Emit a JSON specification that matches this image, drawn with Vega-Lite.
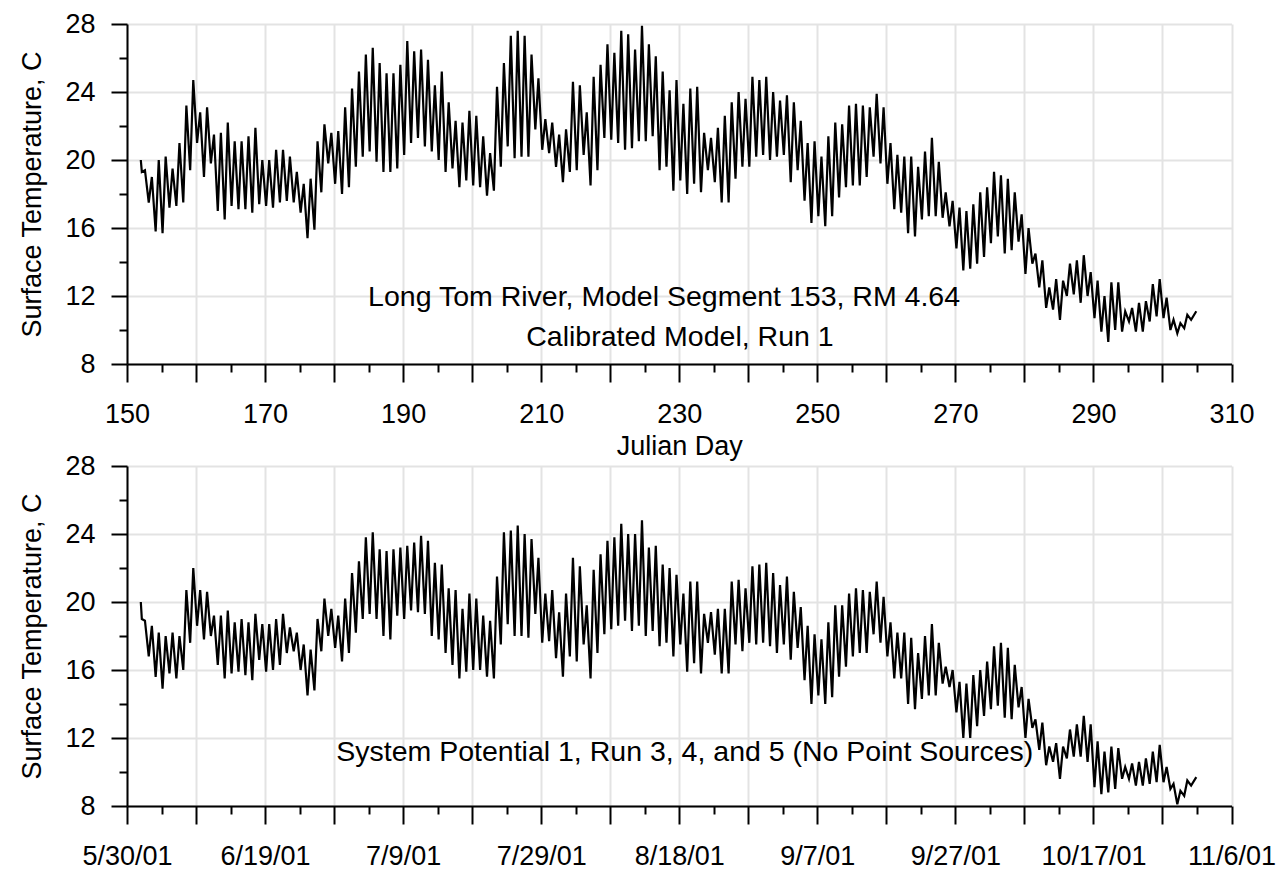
{
"$schema": "https://vega.github.io/schema/vega-lite/v6.json",
"background": "white",
"padding": {"left": 18, "top": 10, "right": 5, "bottom": 5},
"autosize": {"type": "pad"},
"bounds": "flush",
"spacing": 102,
"config": {
"font": "Liberation Sans",
"view": {"stroke": null},
"axis": {"labelFont": "Liberation Sans", "labelFontSize": 27, "labelColor": "#000", "titleFont": "Liberation Sans", "titleFontSize": 27, "titleFontWeight": "normal", "titleColor": "#000", "domainColor": "#000", "domainWidth": 2, "tickColor": "#000", "tickWidth": 2, "gridColor": "#e3e3e3", "gridWidth": 2, "labelFlush": false, "labelOverlap": false, "labelBound": false}
},
"datasets": {
"top": [
{"t":152,"v":20},
{"t":152.15,"v":19.3},{"t":152.6,"v":19.4},
{"t":153.15,"v":17.5},{"t":153.6,"v":19},
{"t":154.15,"v":15.8},{"t":154.6,"v":20},
{"t":155.15,"v":15.7},{"t":155.6,"v":20.2},
{"t":156.15,"v":17.2},{"t":156.6,"v":19.5},
{"t":157.15,"v":17.3},{"t":157.6,"v":21},
{"t":158.15,"v":17.5},{"t":158.6,"v":23.2},
{"t":159.15,"v":19.4},{"t":159.6,"v":24.7},
{"t":160.15,"v":21},{"t":160.6,"v":22.8},
{"t":161.15,"v":19},{"t":161.6,"v":23.1},
{"t":162.15,"v":19.8},{"t":162.6,"v":21.5},
{"t":163.15,"v":17},{"t":163.6,"v":21.6},
{"t":164.15,"v":16.5},{"t":164.6,"v":22.2},
{"t":165.15,"v":17.3},{"t":165.6,"v":21.1},
{"t":166.15,"v":17.1},{"t":166.6,"v":21.1},
{"t":167.15,"v":17.1},{"t":167.6,"v":21.4},
{"t":168.15,"v":16.9},{"t":168.6,"v":21.9},
{"t":169.15,"v":17.4},{"t":169.6,"v":20},
{"t":170.15,"v":17.3},{"t":170.6,"v":20},
{"t":171.15,"v":17.2},{"t":171.6,"v":20.6},
{"t":172.15,"v":17.5},{"t":172.6,"v":20.6},
{"t":173.15,"v":17.6},{"t":173.6,"v":20.2},
{"t":174.15,"v":17.5},{"t":174.6,"v":19.3},
{"t":175.15,"v":16.9},{"t":175.6,"v":18.6},
{"t":176.15,"v":15.4},{"t":176.6,"v":18.9},
{"t":177.15,"v":15.9},{"t":177.6,"v":21.1},
{"t":178.15,"v":18.1},{"t":178.6,"v":22.1},
{"t":179.15,"v":19.8},{"t":179.6,"v":21.6},
{"t":180.15,"v":18.6},{"t":180.6,"v":21.7},
{"t":181.15,"v":18},{"t":181.6,"v":23.1},
{"t":182.15,"v":18.4},{"t":182.6,"v":24.2},
{"t":183.15,"v":19.6},{"t":183.6,"v":25.2},
{"t":184.15,"v":20.2},{"t":184.6,"v":26.2},
{"t":185.15,"v":20.5},{"t":185.6,"v":26.6},
{"t":186.15,"v":19.9},{"t":186.6,"v":25.7},
{"t":187.15,"v":19.3},{"t":187.6,"v":25.1},
{"t":188.15,"v":19.3},{"t":188.6,"v":25.1},
{"t":189.15,"v":19.5},{"t":189.6,"v":25.6},
{"t":190.15,"v":20.3},{"t":190.6,"v":27},
{"t":191.15,"v":21},{"t":191.6,"v":26.4},
{"t":192.15,"v":21.3},{"t":192.6,"v":26.5},
{"t":193.15,"v":20.8},{"t":193.6,"v":25.9},
{"t":194.15,"v":20.5},{"t":194.6,"v":24.4},
{"t":195.15,"v":20},{"t":195.6,"v":25.2},
{"t":196.15,"v":19.3},{"t":196.6,"v":23.4},
{"t":197.15,"v":19.5},{"t":197.6,"v":22.3},
{"t":198.15,"v":18.4},{"t":198.6,"v":22.2},
{"t":199.15,"v":18.8},{"t":199.6,"v":22.9},
{"t":200.15,"v":18.5},{"t":200.6,"v":22.6},
{"t":201.15,"v":18.4},{"t":201.6,"v":21.4},
{"t":202.15,"v":17.9},{"t":202.6,"v":20.4},
{"t":203.15,"v":18.2},{"t":203.6,"v":24.3},
{"t":204.15,"v":19.6},{"t":204.6,"v":25.7},
{"t":205.15,"v":20.8},{"t":205.6,"v":27.3},
{"t":206.15,"v":20.1},{"t":206.6,"v":27.6},
{"t":207.15,"v":20.2},{"t":207.6,"v":27.3},
{"t":208.15,"v":20.2},{"t":208.6,"v":26.2},
{"t":209.15,"v":21.8},{"t":209.6,"v":24.8},
{"t":210.15,"v":20.6},{"t":210.6,"v":22.4},
{"t":211.15,"v":20.4},{"t":211.6,"v":22.2},
{"t":212.15,"v":19.6},{"t":212.6,"v":21.5},
{"t":213.15,"v":18.7},{"t":213.6,"v":21.8},
{"t":214.15,"v":19.3},{"t":214.6,"v":24.6},
{"t":215.15,"v":19.4},{"t":215.6,"v":24.4},
{"t":216.15,"v":20.3},{"t":216.6,"v":22.8},
{"t":217.15,"v":18.5},{"t":217.6,"v":24.9},
{"t":218.15,"v":19.4},{"t":218.6,"v":25.6},
{"t":219.15,"v":21.3},{"t":219.6,"v":26.8},
{"t":220.15,"v":21.2},{"t":220.6,"v":26.3},
{"t":221.15,"v":21},{"t":221.6,"v":27.6},
{"t":222.15,"v":20.6},{"t":222.6,"v":27.4},
{"t":223.15,"v":20.7},{"t":223.6,"v":26.5},
{"t":224.15,"v":21.1},{"t":224.6,"v":27.9},
{"t":225.15,"v":21.1},{"t":225.6,"v":26.8},
{"t":226.15,"v":21.4},{"t":226.6,"v":26.1},
{"t":227.15,"v":19.4},{"t":227.6,"v":25.2},
{"t":228.15,"v":19.6},{"t":228.6,"v":24.1},
{"t":229.15,"v":18.2},{"t":229.6,"v":24.7},
{"t":230.15,"v":18.8},{"t":230.6,"v":23.3},
{"t":231.15,"v":18},{"t":231.6,"v":24.2},
{"t":232.15,"v":18.6},{"t":232.6,"v":24.3},
{"t":233.15,"v":18.1},{"t":233.6,"v":21.6},
{"t":234.15,"v":19.4},{"t":234.6,"v":21.3},
{"t":235.15,"v":18.7},{"t":235.6,"v":21.9},
{"t":236.15,"v":17.5},{"t":236.6,"v":22.6},
{"t":237.15,"v":17.5},{"t":237.6,"v":23.4},
{"t":238.15,"v":18.9},{"t":238.6,"v":24},
{"t":239.15,"v":19.6},{"t":239.6,"v":23.6},
{"t":240.15,"v":19.6},{"t":240.6,"v":24.9},
{"t":241.15,"v":20.2},{"t":241.6,"v":24.7},
{"t":242.15,"v":20.3},{"t":242.6,"v":24.9},
{"t":243.15,"v":20},{"t":243.6,"v":24},
{"t":244.15,"v":20.2},{"t":244.6,"v":23.5},
{"t":245.15,"v":20.3},{"t":245.6,"v":23.8},
{"t":246.15,"v":18.7},{"t":246.6,"v":23.4},
{"t":247.15,"v":19.4},{"t":247.6,"v":22.3},
{"t":248.15,"v":17.6},{"t":248.6,"v":21},
{"t":249.15,"v":16.3},{"t":249.6,"v":21.1},
{"t":250.15,"v":16.7},{"t":250.6,"v":20.2},
{"t":251.15,"v":16.1},{"t":251.6,"v":21.4},
{"t":252.15,"v":16.7},{"t":252.6,"v":22.2},
{"t":253.15,"v":17.8},{"t":253.6,"v":22.1},
{"t":254.15,"v":18.4},{"t":254.6,"v":23.2},
{"t":255.15,"v":18.5},{"t":255.6,"v":23.3},
{"t":256.15,"v":18.5},{"t":256.6,"v":23.2},
{"t":257.15,"v":19},{"t":257.6,"v":23.1},
{"t":258.15,"v":20.2},{"t":258.6,"v":23.9},
{"t":259.15,"v":19.8},{"t":259.6,"v":23.1},
{"t":260.15,"v":18.6},{"t":260.6,"v":21},
{"t":261.15,"v":17.1},{"t":261.6,"v":20.3},
{"t":262.15,"v":16.9},{"t":262.6,"v":20.2},
{"t":263.15,"v":15.7},{"t":263.6,"v":20.2},
{"t":264.15,"v":15.5},{"t":264.6,"v":19.6},
{"t":265.15,"v":16.5},{"t":265.6,"v":20.5},
{"t":266.15,"v":16.7},{"t":266.6,"v":21.3},
{"t":267.15,"v":16.7},{"t":267.6,"v":19.9},
{"t":268.15,"v":16.6},{"t":268.6,"v":18.1},
{"t":269.15,"v":16.1},{"t":269.6,"v":17.6},
{"t":270.15,"v":14.8},{"t":270.6,"v":17.2},
{"t":271.15,"v":13.5},{"t":271.6,"v":17},
{"t":272.15,"v":13.6},{"t":272.6,"v":17.4},
{"t":273.15,"v":13.9},{"t":273.6,"v":18.1},
{"t":274.15,"v":14.3},{"t":274.6,"v":18.4},
{"t":275.15,"v":15.1},{"t":275.6,"v":19.3},
{"t":276.15,"v":15.5},{"t":276.6,"v":19.1},
{"t":277.15,"v":14.5},{"t":277.6,"v":18.9},
{"t":278.15,"v":14.7},{"t":278.6,"v":18.1},
{"t":279.15,"v":15.2},{"t":279.6,"v":16.8},
{"t":280.15,"v":13.3},{"t":280.6,"v":16},
{"t":281.15,"v":13.9},{"t":281.6,"v":14.5},
{"t":282.15,"v":12.5},{"t":282.6,"v":14.1},
{"t":283.15,"v":11.3},{"t":283.6,"v":12.5},
{"t":284.15,"v":11.2},{"t":284.6,"v":13},
{"t":285.15,"v":10.6},{"t":285.6,"v":12.9},
{"t":286.15,"v":12},{"t":286.6,"v":13.9},
{"t":287.15,"v":12.1},{"t":287.6,"v":14.1},
{"t":288.15,"v":11.6},{"t":288.6,"v":14.4},
{"t":289.15,"v":12},{"t":289.6,"v":13.4},
{"t":290.15,"v":10.7},{"t":290.6,"v":12.9},
{"t":291.15,"v":9.9},{"t":291.6,"v":12},
{"t":292.15,"v":9.3},{"t":292.6,"v":12.8},
{"t":293.15,"v":10},{"t":293.6,"v":12.8},
{"t":294.15,"v":9.9},{"t":294.6,"v":11.1},
{"t":295.15,"v":10.5},{"t":295.6,"v":11.3},
{"t":296.15,"v":9.9},{"t":296.6,"v":11.6},
{"t":297.15,"v":9.9},{"t":297.6,"v":11.7},
{"t":298.15,"v":10.5},{"t":298.6,"v":12.7},
{"t":299.15,"v":10.8},{"t":299.6,"v":13},
{"t":300.15,"v":10.7},{"t":300.6,"v":11.9},
{"t":301.15,"v":10},{"t":301.6,"v":10.6},
{"t":302.15,"v":9.8},{"t":302.6,"v":10.4},
{"t":303.15,"v":10.1},{"t":303.6,"v":10.9},
{"t":304.15,"v":10.6},{"t":304.9,"v":11.1}
],
"bot": [
{"t":152,"v":20},
{"t":152.15,"v":19},{"t":152.6,"v":18.9},
{"t":153.15,"v":16.8},{"t":153.6,"v":18.6},
{"t":154.15,"v":15.6},{"t":154.6,"v":18.2},
{"t":155.15,"v":14.9},{"t":155.6,"v":18},
{"t":156.15,"v":15.8},{"t":156.6,"v":18.2},
{"t":157.15,"v":15.5},{"t":157.6,"v":18},
{"t":158.15,"v":16},{"t":158.6,"v":20.7},
{"t":159.15,"v":17.6},{"t":159.6,"v":22},
{"t":160.15,"v":18.6},{"t":160.6,"v":20.7},
{"t":161.15,"v":17.8},{"t":161.6,"v":20.6},
{"t":162.15,"v":18},{"t":162.6,"v":19.2},
{"t":163.15,"v":16.3},{"t":163.6,"v":19.2},
{"t":164.15,"v":15.5},{"t":164.6,"v":19.5},
{"t":165.15,"v":15.8},{"t":165.6,"v":18.8},
{"t":166.15,"v":15.9},{"t":166.6,"v":19},
{"t":167.15,"v":15.7},{"t":167.6,"v":18.8},
{"t":168.15,"v":15.4},{"t":168.6,"v":19.3},
{"t":169.15,"v":16.6},{"t":169.6,"v":18.7},
{"t":170.15,"v":15.9},{"t":170.6,"v":18.7},
{"t":171.15,"v":16},{"t":171.6,"v":19},
{"t":172.15,"v":16.3},{"t":172.6,"v":19.3},
{"t":173.15,"v":17},{"t":173.6,"v":18.5},
{"t":174.15,"v":17.1},{"t":174.6,"v":18.2},
{"t":175.15,"v":16},{"t":175.6,"v":17.5},
{"t":176.15,"v":14.5},{"t":176.6,"v":17.2},
{"t":177.15,"v":14.8},{"t":177.6,"v":19},
{"t":178.15,"v":17.1},{"t":178.6,"v":20.2},
{"t":179.15,"v":18},{"t":179.6,"v":19.6},
{"t":180.15,"v":17.3},{"t":180.6,"v":19.2},
{"t":181.15,"v":16.5},{"t":181.6,"v":20.2},
{"t":182.15,"v":17},{"t":182.6,"v":21.7},
{"t":183.15,"v":18.2},{"t":183.6,"v":22.4},
{"t":184.15,"v":19},{"t":184.6,"v":23.8},
{"t":185.15,"v":19.3},{"t":185.6,"v":24.1},
{"t":186.15,"v":19},{"t":186.6,"v":23.1},
{"t":187.15,"v":18},{"t":187.6,"v":23},
{"t":188.15,"v":17.8},{"t":188.6,"v":23.1},
{"t":189.15,"v":19.2},{"t":189.6,"v":23.2},
{"t":190.15,"v":19},{"t":190.6,"v":23.3},
{"t":191.15,"v":19.5},{"t":191.6,"v":23.5},
{"t":192.15,"v":19.4},{"t":192.6,"v":23.9},
{"t":193.15,"v":19.3},{"t":193.6,"v":23.6},
{"t":194.15,"v":18},{"t":194.6,"v":22.3},
{"t":195.15,"v":17.8},{"t":195.6,"v":22.2},
{"t":196.15,"v":17},{"t":196.6,"v":20.8},
{"t":197.15,"v":16.3},{"t":197.6,"v":20.7},
{"t":198.15,"v":15.5},{"t":198.6,"v":19.6},
{"t":199.15,"v":15.9},{"t":199.6,"v":20.5},
{"t":200.15,"v":16},{"t":200.6,"v":20.2},
{"t":201.15,"v":16},{"t":201.6,"v":19.2},
{"t":202.15,"v":15.6},{"t":202.6,"v":18.9},
{"t":203.15,"v":15.5},{"t":203.6,"v":21.5},
{"t":204.15,"v":17.5},{"t":204.6,"v":24.1},
{"t":205.15,"v":18.7},{"t":205.6,"v":24.2},
{"t":206.15,"v":18},{"t":206.6,"v":24.5},
{"t":207.15,"v":18},{"t":207.6,"v":24},
{"t":208.15,"v":17.9},{"t":208.6,"v":23.7},
{"t":209.15,"v":19.3},{"t":209.6,"v":22.6},
{"t":210.15,"v":17.6},{"t":210.6,"v":20.5},
{"t":211.15,"v":17.7},{"t":211.6,"v":20.7},
{"t":212.15,"v":16.7},{"t":212.6,"v":19.4},
{"t":213.15,"v":15.6},{"t":213.6,"v":20.5},
{"t":214.15,"v":16.8},{"t":214.6,"v":22.6},
{"t":215.15,"v":16.5},{"t":215.6,"v":22.1},
{"t":216.15,"v":17.5},{"t":216.6,"v":19.8},
{"t":217.15,"v":15.5},{"t":217.6,"v":21.9},
{"t":218.15,"v":17},{"t":218.6,"v":22.8},
{"t":219.15,"v":18.1},{"t":219.6,"v":23.6},
{"t":220.15,"v":18.4},{"t":220.6,"v":23.8},
{"t":221.15,"v":18.6},{"t":221.6,"v":24.6},
{"t":222.15,"v":18.9},{"t":222.6,"v":24},
{"t":223.15,"v":18.3},{"t":223.6,"v":24},
{"t":224.15,"v":18.6},{"t":224.6,"v":24.8},
{"t":225.15,"v":18},{"t":225.6,"v":23.2},
{"t":226.15,"v":18.3},{"t":226.6,"v":23.3},
{"t":227.15,"v":17.4},{"t":227.6,"v":22.2},
{"t":228.15,"v":17.6},{"t":228.6,"v":22},
{"t":229.15,"v":16.8},{"t":229.6,"v":21.6},
{"t":230.15,"v":17.5},{"t":230.6,"v":20.5},
{"t":231.15,"v":15.9},{"t":231.6,"v":21.2},
{"t":232.15,"v":16.4},{"t":232.6,"v":21.2},
{"t":233.15,"v":15.8},{"t":233.6,"v":19.3},
{"t":234.15,"v":17.6},{"t":234.6,"v":19.4},
{"t":235.15,"v":16.9},{"t":235.6,"v":19.6},
{"t":236.15,"v":15.8},{"t":236.6,"v":19.6},
{"t":237.15,"v":15.8},{"t":237.6,"v":21.2},
{"t":238.15,"v":17.5},{"t":238.6,"v":21.3},
{"t":239.15,"v":17.1},{"t":239.6,"v":20.8},
{"t":240.15,"v":17.6},{"t":240.6,"v":22.1},
{"t":241.15,"v":17.5},{"t":241.6,"v":22.2},
{"t":242.15,"v":17.6},{"t":242.6,"v":22.3},
{"t":243.15,"v":17.4},{"t":243.6,"v":21.7},
{"t":244.15,"v":17},{"t":244.6,"v":21},
{"t":245.15,"v":17.5},{"t":245.6,"v":21.5},
{"t":246.15,"v":16.6},{"t":246.6,"v":20.6},
{"t":247.15,"v":17.3},{"t":247.6,"v":19.7},
{"t":248.15,"v":15.4},{"t":248.6,"v":18.6},
{"t":249.15,"v":14},{"t":249.6,"v":18.1},
{"t":250.15,"v":14.5},{"t":250.6,"v":17.8},
{"t":251.15,"v":14},{"t":251.6,"v":18.8},
{"t":252.15,"v":14.4},{"t":252.6,"v":19.8},
{"t":253.15,"v":15.6},{"t":253.6,"v":19.8},
{"t":254.15,"v":16.2},{"t":254.6,"v":20.5},
{"t":255.15,"v":16.8},{"t":255.6,"v":20.8},
{"t":256.15,"v":17},{"t":256.6,"v":20.7},
{"t":257.15,"v":17},{"t":257.6,"v":20.6},
{"t":258.15,"v":18.1},{"t":258.6,"v":21.2},
{"t":259.15,"v":17.6},{"t":259.6,"v":20.3},
{"t":260.15,"v":16.8},{"t":260.6,"v":18.8},
{"t":261.15,"v":15.5},{"t":261.6,"v":18.2},
{"t":262.15,"v":15.5},{"t":262.6,"v":18.2},
{"t":263.15,"v":14},{"t":263.6,"v":17.9},
{"t":264.15,"v":13.7},{"t":264.6,"v":17},
{"t":265.15,"v":14.3},{"t":265.6,"v":18},
{"t":266.15,"v":14.5},{"t":266.6,"v":18.7},
{"t":267.15,"v":14.5},{"t":267.6,"v":17.6},
{"t":268.15,"v":15.2},{"t":268.6,"v":16.2},
{"t":269.15,"v":15},{"t":269.6,"v":16},
{"t":270.15,"v":13.5},{"t":270.6,"v":15.3},
{"t":271.15,"v":12},{"t":271.6,"v":15.2},
{"t":272.15,"v":12},{"t":272.6,"v":15.7},
{"t":273.15,"v":12.7},{"t":273.6,"v":16},
{"t":274.15,"v":13.3},{"t":274.6,"v":16.5},
{"t":275.15,"v":13.7},{"t":275.6,"v":17.4},
{"t":276.15,"v":13.9},{"t":276.6,"v":17.6},
{"t":277.15,"v":13.2},{"t":277.6,"v":17.3},
{"t":278.15,"v":13.1},{"t":278.6,"v":16.3},
{"t":279.15,"v":13.8},{"t":279.6,"v":15},
{"t":280.15,"v":12},{"t":280.6,"v":14.3},
{"t":281.15,"v":12.6},{"t":281.6,"v":13.1},
{"t":282.15,"v":11.3},{"t":282.6,"v":12.9},
{"t":283.15,"v":10.4},{"t":283.6,"v":11.5},
{"t":284.15,"v":10.6},{"t":284.6,"v":11.7},
{"t":285.15,"v":9.6},{"t":285.6,"v":11.5},
{"t":286.15,"v":10.8},{"t":286.6,"v":12.5},
{"t":287.15,"v":10.9},{"t":287.6,"v":12.8},
{"t":288.15,"v":10.9},{"t":288.6,"v":13.3},
{"t":289.15,"v":10.6},{"t":289.6,"v":12.8},
{"t":290.15,"v":9.1},{"t":290.6,"v":11.8},
{"t":291.15,"v":8.7},{"t":291.6,"v":11.2},
{"t":292.15,"v":8.8},{"t":292.6,"v":11.5},
{"t":293.15,"v":9},{"t":293.6,"v":11.4},
{"t":294.15,"v":9.6},{"t":294.6,"v":10.3},
{"t":295.15,"v":9.6},{"t":295.6,"v":10.5},
{"t":296.15,"v":9.2},{"t":296.6,"v":10.6},
{"t":297.15,"v":9.2},{"t":297.6,"v":10.8},
{"t":298.15,"v":9.3},{"t":298.6,"v":11.2},
{"t":299.15,"v":9.4},{"t":299.6,"v":11.6},
{"t":300.15,"v":9.4},{"t":300.6,"v":10.3},
{"t":301.15,"v":9},{"t":301.6,"v":9.3},
{"t":302.15,"v":8.1},{"t":302.6,"v":8.9},
{"t":303.15,"v":8.6},{"t":303.6,"v":9.5},
{"t":304.15,"v":9.2},{"t":304.9,"v":9.7}
]
},
"vconcat": [
{
"width": 1104.5,
"height": 340,
"layer": [
{
"data": {"name": "top"},
"mark": {"type": "line", "color": "#000", "strokeWidth": 2.2},
"encoding": {
"x": {"field": "t", "type": "quantitative", "scale": {"domain": [150, 310], "nice": false, "zero": false},
"axis": {"orient": "bottom", "values": [150,160,170,180,190,200,210,220,230,240,250,260,270,280,290,300,310], "grid": true, "tickSize": 18, "labelPadding": 19, "labelExpr": "datum.value % 20 == 10 ? datum.label : ''", "title": "Julian Day", "titlePadding": 6}},
"y": {"field": "v", "type": "quantitative", "scale": {"domain": [8, 28], "nice": false, "zero": false},
"axis": {"orient": "left", "values": [8,12,16,20,24,28], "grid": true, "tickSize": 16, "labelPadding": 16, "title": "Surface Temperature, C", "titlePadding": 18}}
}
},
{
"data": {"values": [{"t": 150, "v": 8}]},
"mark": {"type": "point", "opacity": 0},
"encoding": {
"x": {"field": "t", "type": "quantitative", "scale": {"domain": [150, 310], "nice": false, "zero": false},
"axis": {"orient": "bottom", "values": [155,165,175,185,195,205,215,225,235,245,255,265,275,285,295,305], "grid": false, "tickSize": 8, "labels": false, "domain": false, "title": null}},
"y": {"field": "v", "type": "quantitative", "scale": {"domain": [8, 28], "nice": false, "zero": false},
"axis": {"orient": "left", "values": [10,14,18,22,26], "grid": false, "tickSize": 8, "labels": false, "domain": false, "title": null}}
}
},
{
"data": {"values": [{"t": 227.8, "v": 11.94, "label": "Long Tom River, Model Segment 153, RM 4.64"}, {"t": 230.1, "v": 9.59, "label": "Calibrated Model, Run 1"}]},
"mark": {"type": "text", "font": "Liberation Sans", "fontSize": 28.5, "color": "#000", "align": "center", "baseline": "middle"},
"encoding": {
"x": {"field": "t", "type": "quantitative", "axis": null},
"y": {"field": "v", "type": "quantitative", "axis": null},
"text": {"field": "label"}
}
}
],
"resolve": {"axis": {"x": "independent", "y": "independent"}}
},
{
"width": 1104.5,
"height": 340,
"layer": [
{
"data": {"name": "bot"},
"mark": {"type": "line", "color": "#000", "strokeWidth": 2.2},
"encoding": {
"x": {"field": "t", "type": "quantitative", "scale": {"domain": [150, 310], "nice": false, "zero": false},
"axis": {"orient": "bottom", "values": [150,160,170,180,190,200,210,220,230,240,250,260,270,280,290,300,310], "grid": true, "tickSize": 18, "labelPadding": 19, "labelExpr": "datum.value % 20 == 10 ? timeFormat(datetime(2001, 0, datum.value), '%-m/%-d/%y') : ''", "title": null}},
"y": {"field": "v", "type": "quantitative", "scale": {"domain": [8, 28], "nice": false, "zero": false},
"axis": {"orient": "left", "values": [8,12,16,20,24,28], "grid": true, "tickSize": 16, "labelPadding": 16, "title": "Surface Temperature, C", "titlePadding": 18}}
}
},
{
"data": {"values": [{"t": 150, "v": 8}]},
"mark": {"type": "point", "opacity": 0},
"encoding": {
"x": {"field": "t", "type": "quantitative", "scale": {"domain": [150, 310], "nice": false, "zero": false},
"axis": {"orient": "bottom", "values": [155,165,175,185,195,205,215,225,235,245,255,265,275,285,295,305], "grid": false, "tickSize": 8, "labels": false, "domain": false, "title": null}},
"y": {"field": "v", "type": "quantitative", "scale": {"domain": [8, 28], "nice": false, "zero": false},
"axis": {"orient": "left", "values": [10,14,18,22,26], "grid": false, "tickSize": 8, "labels": false, "domain": false, "title": null}}
}
},
{
"data": {"values": [{"t": 230.8, "v": 11.18, "label": "System Potential 1, Run 3, 4, and 5 (No Point Sources)"}]},
"mark": {"type": "text", "font": "Liberation Sans", "fontSize": 28.5, "color": "#000", "align": "center", "baseline": "middle"},
"encoding": {
"x": {"field": "t", "type": "quantitative", "axis": null},
"y": {"field": "v", "type": "quantitative", "axis": null},
"text": {"field": "label"}
}
}
],
"resolve": {"axis": {"x": "independent", "y": "independent"}}
}
]
}
